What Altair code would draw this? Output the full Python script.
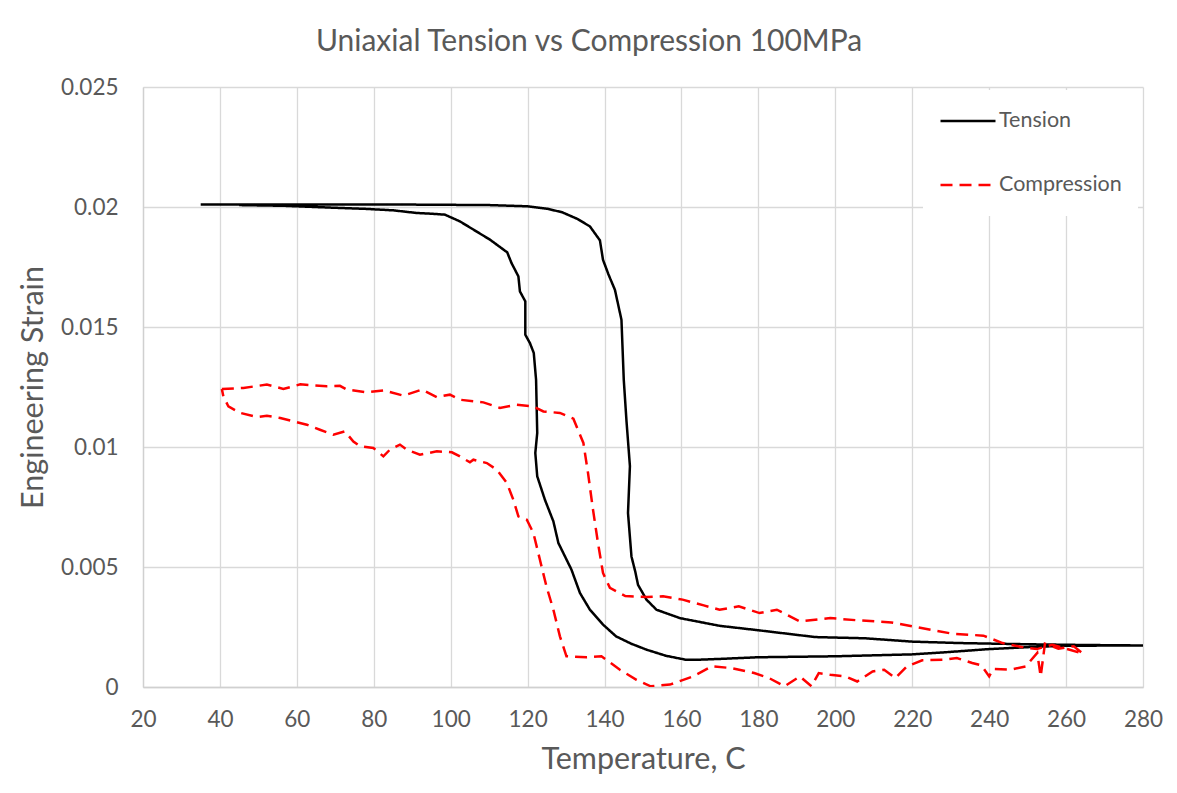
import altair as alt
import pandas as pd

# ---- data ----
tension_T = [35, 50, 70, 90, 110, 120, 125, 129, 133, 136.2, 138.8, 139.6, 141, 142.7, 144.4, 145.0, 145.7,
             146.6, 146.1, 147.0, 148.0, 148.7, 150.9, 153.5, 159.6, 169.9, 180.2, 194.8, 207.7, 220.1,
             232.5, 250.4, 265, 280,
             260, 250, 240, 228, 220, 210, 200, 190, 180, 170, 165, 161, 156, 151, 147, 143, 139.6,
             136.2, 133.6, 131.4, 128.0, 126.7, 124.5, 122.5, 122.0, 122.5, 122.2, 121.6, 120.6, 119.4,
             119.4, 118.0, 117.6, 115.8, 114.7, 110.2, 106, 102.4, 98.5, 95, 91.2, 85.1, 78.2, 69.5,
             56.5, 45]
tension_strain = [0.0201, 0.0201, 0.0201, 0.0201, 0.02008, 0.02003, 0.01993, 0.01978, 0.0195, 0.01919,
                  0.01861, 0.0178, 0.0172, 0.01655, 0.0153, 0.0128, 0.0111, 0.0092, 0.00725, 0.00544,
                  0.0048, 0.00426, 0.00364, 0.00322, 0.00287, 0.00255, 0.00236, 0.00208, 0.00203,
                  0.00189, 0.00183, 0.00178, 0.00175, 0.00173,
                  0.00172, 0.00166, 0.00158, 0.00144, 0.00136, 0.00132, 0.00128, 0.00126, 0.00124,
                  0.00117, 0.00114, 0.00114, 0.0013, 0.00155, 0.0018, 0.00211, 0.0026, 0.00322,
                  0.00392, 0.00489, 0.006, 0.0069, 0.0078, 0.00878, 0.00975, 0.01058, 0.0128, 0.01392,
                  0.01433, 0.01468, 0.01607, 0.01648, 0.01711, 0.01767, 0.01811, 0.01864, 0.01905,
                  0.0194, 0.01968, 0.01972, 0.01975, 0.01986, 0.01992, 0.01997, 0.02005, 0.02008]

compression_T = [40.5, 46.1, 52.2, 56.5, 60.9, 67.8, 71.2, 73, 78.2, 82.5, 87.7, 92.5, 96.4, 99.8, 102.4,
                 108.5, 112.8, 117.1, 121.5, 124.1, 128.4, 131.9, 134.5, 135.7, 137.0, 138.3, 139.6,
                 141.4, 145.4, 151, 155.2, 160.3, 165.8, 169.9, 174.9, 180.3, 184.8, 190.8, 198.7,
                 205.7, 214.6, 220.1, 225.6, 230.5, 238.5, 243.5, 248.4, 252.4, 256.4, 261.4, 264.4,
                 262, 258, 254.5, 253.4, 252.5, 249.5, 245.5, 241, 240, 238, 235.6, 231.6, 228.6,
                 222.6, 218.6, 215.6, 212.7, 209.7, 205.7, 202.7, 198.7, 195.7, 193.8, 190.8, 186.8,
                 182.8, 178.9, 172.9, 167.9, 163, 157, 152, 148.3, 144, 139.2, 135.3, 130.1, 128.4,
                 126.7, 124.9, 123.2, 121.5, 119.8, 117.6, 116.3, 114.6, 112, 109.4, 105.9, 105,
                 102.4, 100.3, 96.4, 92, 88.6, 86.8, 84.2, 82.5, 79.9, 76.4, 74.7, 72.5, 69.5, 66,
                 62.6, 59.1, 55.7, 52.2, 49.6, 45.3, 42.2, 40.9, 40.5]
compression_strain = [0.01242, 0.01246, 0.0126, 0.01242, 0.01261, 0.01253, 0.01255, 0.01239, 0.01228,
                      0.01236, 0.01214, 0.01239, 0.01208, 0.01218, 0.01197, 0.01186, 0.01163, 0.01176,
                      0.01169, 0.01148, 0.01142, 0.01118, 0.01017, 0.00892, 0.00739, 0.006, 0.00475,
                      0.00413, 0.00379, 0.00375, 0.00378, 0.00364, 0.0034, 0.00322, 0.00336, 0.00308,
                      0.00322, 0.00273, 0.00287, 0.00278, 0.00269, 0.00253, 0.00236, 0.00222, 0.00214,
                      0.00183, 0.00167, 0.00158, 0.00176, 0.00153, 0.00139,
                      0.0017, 0.0016, 0.0018, 0.00044, 0.00142, 0.00086, 0.00072, 0.00075, 0.00044,
                      0.0009, 0.001, 0.00121, 0.00114, 0.00111, 0.00086, 0.00037, 0.00072, 0.00065,
                      0.00023, 0.00044, 0.00051, 0.00058, 0.00003, 0.00044, 0.00003, 0.00037, 0.00058,
                      0.00079, 0.00086, 0.00044, 0.0001, 0.00003, 0.0003, 0.00072, 0.00128, 0.00124,
                      0.00128, 0.00211, 0.00322, 0.00419, 0.0053, 0.00642, 0.00697, 0.00711, 0.0078,
                      0.0085, 0.00905, 0.00933, 0.00947, 0.00936, 0.00961, 0.00978, 0.00982, 0.00968,
                      0.00989, 0.0101, 0.00989, 0.00961, 0.00996, 0.01003, 0.01023, 0.01065, 0.01051,
                      0.01072, 0.01093, 0.01107, 0.01121, 0.0113, 0.01125, 0.01142, 0.01169, 0.01211,
                      0.01242]

series_names = ["Tension", "Compression"]
x_ticks = [20, 40, 60, 80, 100, 120, 140, 160, 180, 200, 220, 240, 260, 280]
y_ticks = [0, 0.005, 0.01, 0.015, 0.02, 0.025]

rows = []
for i, (t, s) in enumerate(zip(tension_T, tension_strain)):
    rows.append({"series": series_names[0], "T": t, "strain": s, "idx": i})
for i, (t, s) in enumerate(zip(compression_T, compression_strain)):
    rows.append({"series": series_names[1], "T": t, "strain": s, "idx": i})
df = pd.DataFrame(rows)

FONT = "Lato"
GRAY = "#595959"

legend = alt.Legend(orient="none", legendX=780, legendY=3)

chart = alt.Chart(df).mark_line(strokeWidth=2.5, clip=True).encode(
    x=alt.X("T:Q", scale=alt.Scale(domain=[20, 280], nice=False, zero=False),
            axis=alt.Axis(values=x_ticks, title="Temperature, C", titlePadding=14, labelFlush=False)),
    y=alt.Y("strain:Q", scale=alt.Scale(domain=[0, 0.025], nice=False),
            axis=alt.Axis(values=y_ticks, format="~g", title="Engineering Strain", titlePadding=12,
                          labelFlush=False)),
    color=alt.Color("series:N", title=None,
                    scale=alt.Scale(domain=series_names, range=["#000000", "#ff0000"]),
                    legend=legend),
    strokeDash=alt.StrokeDash("series:N", title=None,
                              scale=alt.Scale(domain=series_names, range=[[1, 0], [12, 7]]),
                              legend=legend),
    order=alt.Order("idx:Q"),
).properties(
    width=1000,
    height=600,
    title=alt.TitleParams("Uniaxial Tension vs Compression 100MPa", fontSize=30, font=FONT,
                          fontWeight="normal", color=GRAY, anchor="middle", dx=-54, offset=19,
                          frame="group"),
    autosize=alt.AutoSizeParams(type="none"),
    padding={"left": 135, "top": 79, "right": 26, "bottom": 90},
).configure_view(stroke=None).configure_axis(
    grid=True, gridColor="#d9d9d9", gridWidth=1.3, domainColor="#d0d0d0", domainWidth=1.3,
    ticks=False, labelFont=FONT, labelFontSize=22.5, labelColor=GRAY, titleFont=FONT,
    titleFontWeight="normal", titleColor=GRAY,
).configure_axisX(labelPadding=21, titleFontSize=30.5).configure_axisY(
    labelPadding=25, titleFontSize=30.5
).configure_legend(
    fillColor="white", padding=16, labelFont=FONT, labelFontSize=21.5, labelColor=GRAY,
    symbolType="stroke", symbolSize=3025, symbolStrokeWidth=2.5, rowPadding=34, labelOffset=2,
    clipHeight=30,
)

chart.save("out.html", embed_options={"renderer": "svg", "actions": False})
